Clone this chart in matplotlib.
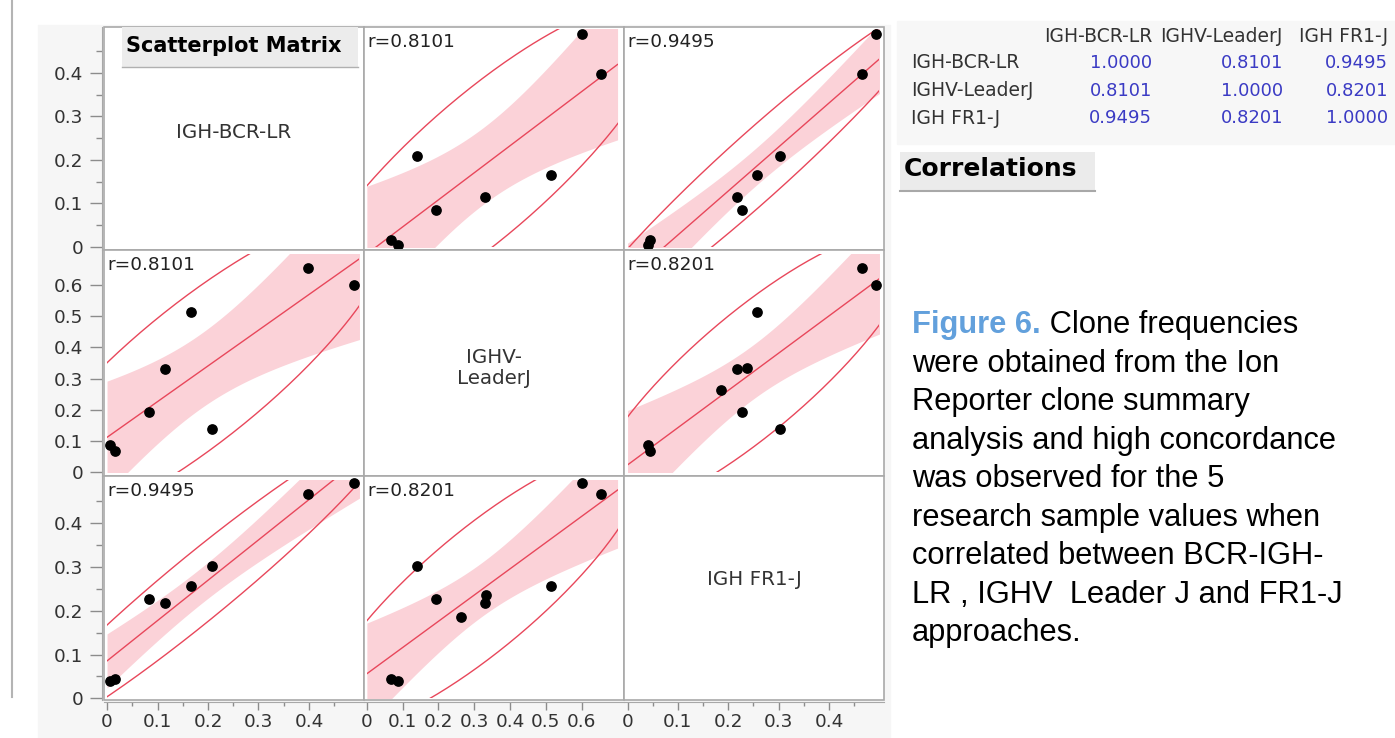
import numpy as np
import matplotlib.pyplot as plt
from matplotlib.patches import Rectangle
from matplotlib.lines import Line2D

# clone frequencies read off the scatterplot matrix (two rows have no IGH-BCR-LR value)
var_names = ['IGH-BCR-LR', 'IGHV-LeaderJ', 'IGH FR1-J']
diag_labels = ['IGH-BCR-LR', 'IGHV-\nLeaderJ', 'IGH FR1-J']
bcr_lr = [0.005, 0.015, 0.084, 0.115, 0.166, 0.208, 0.398, 0.489, np.nan, np.nan]
leader_j = [0.086, 0.067, 0.194, 0.331, 0.514, 0.140, 0.655, 0.601, 0.262, 0.334]
fr1_j = [0.040, 0.044, 0.228, 0.218, 0.256, 0.302, 0.466, 0.493, 0.186, 0.237]
corr = [[1.0000, 0.8101, 0.9495],
        [0.8101, 1.0000, 0.8201],
        [0.9495, 0.8201, 1.0000]]

caption_lines = ['were obtained from the Ion',
                 'Reporter clone summary',
                 'analysis and high concordance',
                 'was observed for the 5',
                 'research sample values when',
                 'correlated between BCR-IGH-',
                 'LR , IGHV  Leader J and FR1-J',
                 'approaches.']

# axis ranges per variable
x_lo = [-0.006, -0.008, -0.007]
x_hi = [0.509, 0.718, 0.509]
y_lo = [-0.007, -0.012, -0.004]
y_hi = [0.505, 0.712, 0.508]
clip_hi = [0.5, 0.7, 0.5]
major = [[0, 0.1, 0.2, 0.3, 0.4], [0, 0.1, 0.2, 0.3, 0.4, 0.5, 0.6], [0, 0.1, 0.2, 0.3, 0.4]]
minor = [[0.05, 0.15, 0.25, 0.35, 0.45], [], [0.05, 0.15, 0.25, 0.35, 0.45]]

t975 = {6: 2.447, 8: 2.306}   # t quantiles for the mean confidence band
ell_c = 4.605                 # chi-square quantile for the density ellipse

RED = '#e8475b'
PINK = '#fbd2d8'
TXT = '#333333'
AXIS = '#a8a8a8'

W, H = 1395, 738
fig = plt.figure(figsize=(W / 100, H / 100), dpi=100)


def fx(px):
    return px / W


def fy(py):
    return 1 - py / H


def tick_fmt(v):
    return '0' if v == 0 else f'{v:.1f}'


# background of the JMP report area
fig.add_artist(Rectangle((fx(38), fy(738)), fx(890) - fx(38), (738 - 25) / H,
                         transform=fig.transFigure, color='#f6f6f6', zorder=-2))
fig.add_artist(Line2D([fx(12), fx(12)], [fy(0), fy(697)], color='#b4b4b4', lw=1.5))

data = [np.array(bcr_lr), np.array(leader_j), np.array(fr1_j)]
cx = [104, 364, 624, 884]
ry = [27, 250, 476, 700]
diag_y = [0.529, 0.478, 0.536]

for i in range(3):
    for j in range(3):
        ax = fig.add_axes([fx(cx[j]), fy(ry[i + 1]), (cx[j + 1] - cx[j]) / W, (ry[i + 1] - ry[i]) / H])
        ax.set_facecolor('white')
        ax.set_xlim(x_lo[j], x_hi[j])
        ax.set_ylim(y_lo[i], y_hi[i])
        for s in ax.spines.values():
            s.set_color('none')
        ax.spines['left'].set_position(('outward', 1.5))
        ax.spines['bottom'].set_position(('outward', 1.2))
        if j == 0:
            ax.spines['left'].set_color(AXIS)
        if i == 2:
            ax.spines['bottom'].set_color(AXIS)
        ax.add_patch(Rectangle((0, 0), 1, 1, transform=ax.transAxes, fill=False,
                               ec='#a9a9a9', lw=1.2, clip_on=False, zorder=6))

        ax.set_xticks(major[j])
        ax.set_xticklabels([tick_fmt(v) for v in major[j]])
        ax.set_xticks(minor[j], minor=True)
        ax.set_yticks(major[i])
        ax.set_yticklabels([tick_fmt(v) for v in major[i]])
        ax.set_yticks(minor[i], minor=True)
        ax.tick_params(which='both', color='#8c8c8c', width=1, labelsize=13.3, labelcolor=TXT)
        ax.tick_params(axis='y', which='major', length=8.6, pad=4.8)
        ax.tick_params(axis='y', which='minor', length=4)
        ax.tick_params(axis='x', which='major', length=5.8, pad=2.6)
        ax.tick_params(axis='x', which='minor', length=2.9)
        if j != 0:
            ax.tick_params(axis='y', which='both', left=False, labelleft=False)
        if i != 2:
            ax.tick_params(axis='x', which='both', bottom=False, labelbottom=False)

        if i == j:
            ax.text(0.5, diag_y[i], diag_labels[i], transform=ax.transAxes, ha='center',
                    va='center', fontsize=14.3, color=TXT, linespacing=1.12)
            continue

        x = data[j]
        y = data[i]
        ok = ~np.isnan(x) & ~np.isnan(y)
        x, y = x[ok], y[ok]
        n = len(x)
        clip = Rectangle((0, 0), clip_hi[j], clip_hi[i], transform=ax.transData)

        # fit line with shaded confidence band for the mean
        b1, b0 = np.polyfit(x, y, 1)
        resid = y - (b0 + b1 * x)
        s = np.sqrt(np.sum(resid ** 2) / (n - 2))
        sxx = np.sum((x - x.mean()) ** 2)
        xs = np.linspace(0, clip_hi[j], 200)
        yfit = b0 + b1 * xs
        half = t975[n - 2] * s * np.sqrt(1 / n + (xs - x.mean()) ** 2 / sxx)
        band = ax.fill_between(xs, yfit - half, yfit + half, color=PINK, lw=0, zorder=1)
        band.set_clip_path(clip)
        ln, = ax.plot(xs, yfit, color=RED, lw=1.0, zorder=2)
        ln.set_clip_path(clip)

        # bivariate normal density ellipse
        cov = np.cov(np.vstack([x, y]))
        L = np.linalg.cholesky(cov)
        th = np.linspace(0, 2 * np.pi, 400)
        ell = np.array([x.mean(), y.mean()])[:, None] + np.sqrt(ell_c) * L @ np.vstack([np.cos(th), np.sin(th)])
        el, = ax.plot(ell[0], ell[1], color=RED, lw=1.0, zorder=2)
        el.set_clip_path(clip)

        ax.plot(x, y, 'o', color='black', ms=6.7, zorder=4)
        ax.annotate(f'r={corr[i][j]:.4f}', xy=(0, 1), xycoords='axes fraction',
                    xytext=(3, -6), textcoords='offset pixels', ha='left', va='top',
                    fontsize=13.3, color='#222222', zorder=5)

# "Scatterplot Matrix" header box
fig.add_artist(Rectangle((fx(122), fy(67)), (358 - 122) / W, 40 / H, transform=fig.transFigure,
                         fc='#ececec', ec='none', zorder=7))
fig.add_artist(Line2D([fx(122), fx(358)], [fy(66.5), fy(66.5)], color='#b0b0b0', lw=1, zorder=8))
fig.text(fx(126), fy(46), 'Scatterplot Matrix', fontsize=15, fontweight='bold',
         color='black', va='center', ha='left', zorder=8)

# correlation table
fig.add_artist(Rectangle((fx(897), fy(144)), (W - 897) / W, (144 - 21) / H,
                         transform=fig.transFigure, color='#f7f7f7', zorder=-2))
col_right = [1152, 1283, 1388]
for k, name in enumerate(var_names):
    fig.text(fx(col_right[k]), fy(37), name, ha='right', va='center', fontsize=13.5, color=TXT)
row_y = [63, 91, 118]
for r, name in enumerate(var_names):
    fig.text(fx(911), fy(row_y[r]), name, ha='left', va='center', fontsize=13.5, color=TXT)
    for k in range(3):
        fig.text(fx(col_right[k]), fy(row_y[r]), f'{corr[r][k]:.4f}', ha='right',
                 va='center', fontsize=13, color='#3b3bc4')

fig.add_artist(Rectangle((fx(900), fy(192)), (1095 - 900) / W, 40 / H, transform=fig.transFigure,
                         fc='#ebebeb', ec='none', zorder=1))
fig.add_artist(Line2D([fx(900), fx(1095)], [fy(191), fy(191)], color='#a8a8a8', lw=1.5))
fig.text(fx(904), fy(169), 'Correlations', fontsize=18, fontweight='bold', color='black',
         va='center', ha='left')

# caption
cap_font = ['Liberation Sans', 'DejaVu Sans']
cap_size = 22.2
base = 333.5
t1 = fig.text(fx(912), fy(base), 'Figure 6.', fontsize=cap_size, fontweight='bold',
              color='#62a0dc', family=cap_font, va='baseline')
bb = t1.get_window_extent(fig.canvas.get_renderer())
fig.text(bb.x1 / W, fy(base), ' Clone frequencies', fontsize=cap_size, color='black',
         family=cap_font, va='baseline')
for k, line in enumerate(caption_lines):
    fig.text(fx(912), fy(base + 38.45 * (k + 1)), line, fontsize=cap_size, color='black',
             family=cap_font, va='baseline')

fig.savefig('out.png', dpi=100)
